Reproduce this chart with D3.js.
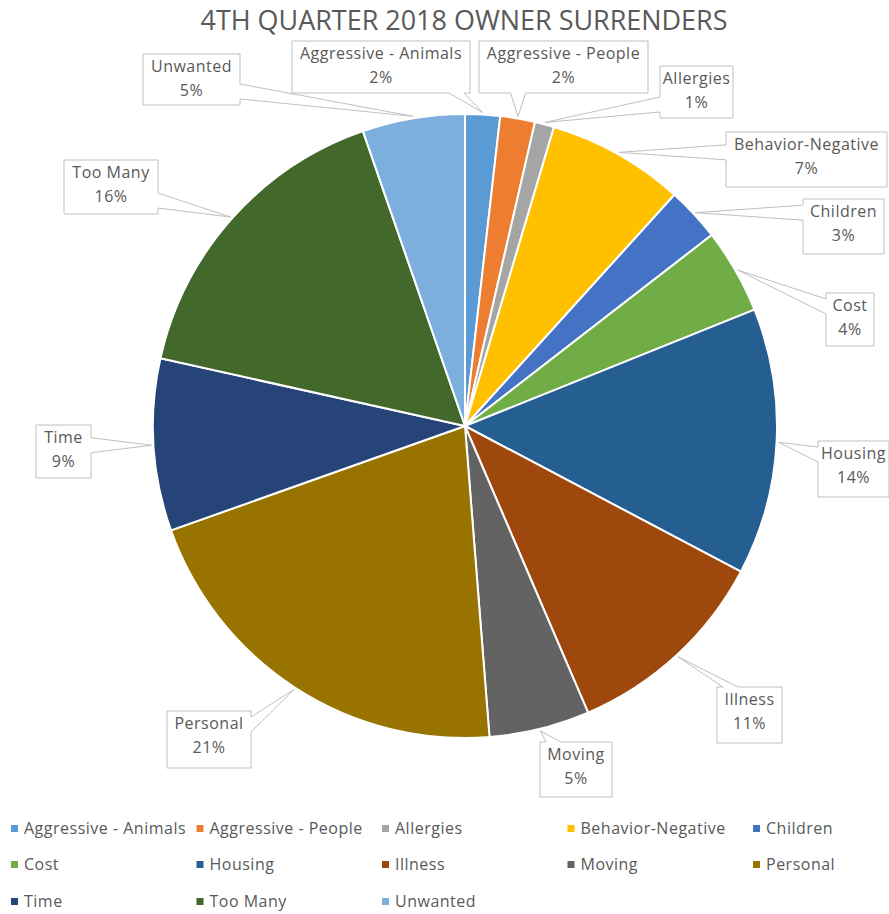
<!DOCTYPE html>
<html>
<head>
<meta charset="utf-8">
<script src="https://cdn.jsdelivr.net/npm/d3@7"></script>
<style>
  html, body { margin: 0; padding: 0; background: #fff; }
  svg { display: block; font-family: "Open Sans", "Noto Sans", sans-serif; }
</style>
</head>
<body>
<svg id="chart" width="889" height="914"></svg>
<script>
// ---- data ----
const categories = ["Aggressive - Animals", "Aggressive - People", "Allergies", "Behavior-Negative",
  "Children", "Cost", "Housing", "Illness", "Moving", "Personal", "Time", "Too Many", "Unwanted"];
const values = [1.8, 1.8, 1.0, 7.1, 2.8, 4.4, 13.8, 10.8, 5.2, 20.8, 8.9, 16.2, 5.3];
const colors = ["#5B9BD5", "#ED7D31", "#A5A5A5", "#FFC000", "#4472C4", "#70AD47", "#255E91",
  "#9E480E", "#636363", "#997300", "#264478", "#43682B", "#7CAFDD"];
const title = "4TH QUARTER 2018 OWNER SURRENDERS";

// ---- layout (label callout boxes: x0, y0, x1, y1, pointer side) ----
const labelBoxes = [
  [292, 41, 470, 93, "bottom"],
  [479, 41, 648, 93, "bottom"],
  [660, 66, 733, 118, "left"],
  [726, 132, 887, 187, "left"],
  [803, 199, 884, 254, "left"],
  [826, 293, 874, 346, "left"],
  [818, 441, 889, 497, "left"],
  [717, 687, 782, 743, "top"],
  [540, 742, 612, 797, "top"],
  [167, 711, 251, 768, "right"],
  [36, 425, 91, 478, "right"],
  [64, 160, 158, 214, "right"],
  [143, 54, 240, 105, "right"]
];

const svg = d3.select("#chart");
const cx = 465, cy = 426, R = 312;
const textColor = "#595959";

// title
svg.append("text")
  .attr("x", 464).attr("y", 30)
  .attr("text-anchor", "middle")
  .attr("font-size", 27)
  .attr("fill", textColor)
  .attr("textLength", 527)
  .attr("lengthAdjust", "spacingAndGlyphs")
  .text(title);

const data = categories.map((c, i) => ({ name: c, value: values[i], color: colors[i], box: labelBoxes[i] }));
const total = d3.sum(values);

const pie = d3.pie().value(d => d.value).sort(null);
const arcs = pie(data);
const arc = d3.arc().innerRadius(0).outerRadius(R);

const g = svg.append("g").attr("transform", `translate(${cx},${cy})`);
g.selectAll("path.slice").data(arcs).enter().append("path")
  .attr("class", "slice")
  .attr("d", arc)
  .attr("fill", d => d.data.color)
  .attr("stroke", "#fff")
  .attr("stroke-width", 2)
  .attr("stroke-linejoin", "round");

// callouts
function clamp(v, a, b) { return Math.max(a, Math.min(b, v)); }
function calloutPath(b, ax, ay) {
  const [x0, y0, x1, y1, side] = b;
  const L = 15, m = 6;
  if (side === "left") {
    const c = clamp(ay, y0 + m + L / 2, y1 - m - L / 2);
    return `M${x0},${y0}H${x1}V${y1}H${x0}V${c + L / 2}L${ax},${ay}L${x0},${c - L / 2}Z`;
  } else if (side === "right") {
    const c = clamp(ay, y0 + m + L / 2, y1 - m - L / 2);
    return `M${x0},${y0}H${x1}V${c - L / 2}L${ax},${ay}L${x1},${c + L / 2}V${y1}H${x0}Z`;
  } else if (side === "top") {
    const c = clamp(ax, x0 + m + L / 2, x1 - m - L / 2);
    return `M${x0},${y0}H${c - L / 2}L${ax},${ay}L${c + L / 2},${y0}H${x1}V${y1}H${x0}Z`;
  } else {
    const c = clamp(ax, x0 + m + L / 2, x1 - m - L / 2);
    return `M${x0},${y0}H${x1}V${y1}H${c + L / 2}L${ax},${ay}L${c - L / 2},${y1}H${x0}Z`;
  }
}

const labels = svg.append("g");
arcs.forEach(a => {
  const mid = (a.startAngle + a.endAngle) / 2;
  const ax = cx + (R + 2) * Math.sin(mid);
  const ay = cy - (R + 2) * Math.cos(mid);
  const b = a.data.box;
  labels.append("path")
    .attr("d", calloutPath(b, ax, ay))
    .attr("fill", "#fff")
    .attr("stroke", "#BFBFBF")
    .attr("stroke-width", 1);
  const tx = (b[0] + b[2]) / 2;
  const t = labels.append("text")
    .attr("text-anchor", "middle")
    .attr("font-size", 16)
    .attr("letter-spacing", 0.5)
    .attr("fill", textColor);
  t.append("tspan").attr("x", tx).attr("y", b[1] + 18).text(a.data.name);
  t.append("tspan").attr("x", tx).attr("y", b[1] + 42)
    .text(Math.round(a.data.value / total * 100) + "%");
});

// legend
const legend = svg.append("g");
const colW = 185.5, lx0 = 11, rowY = [829, 865, 902];
data.forEach((d, i) => {
  const col = i % 5, row = Math.floor(i / 5);
  const x = lx0 + col * colW, y = rowY[row];
  legend.append("rect")
    .attr("x", x).attr("y", y - 4)
    .attr("width", 7).attr("height", 7)
    .attr("fill", d.color);
  legend.append("text")
    .attr("x", x + 13).attr("y", y + 5)
    .attr("font-size", 16)
    .attr("letter-spacing", 0.5)
    .attr("fill", textColor)
    .text(d.name);
});
</script>
</body>
</html>
